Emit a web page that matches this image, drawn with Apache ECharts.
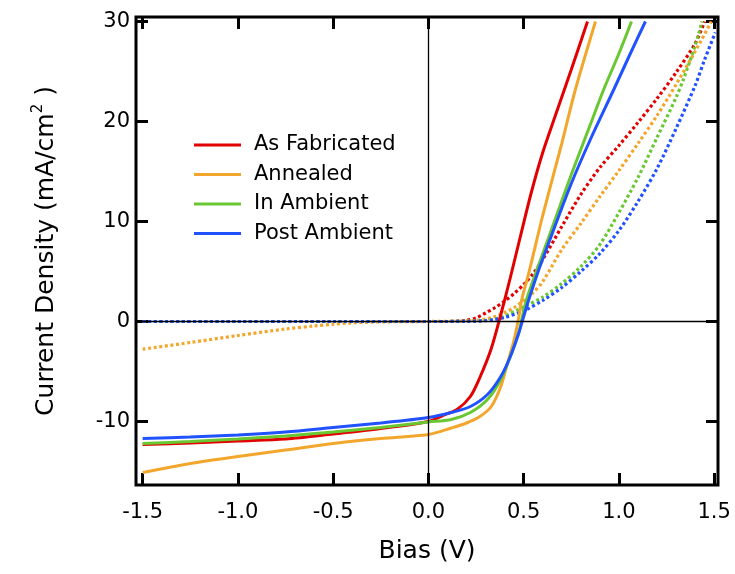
<!DOCTYPE html>
<html>
<head>
<meta charset="utf-8">
<script src="https://cdn.jsdelivr.net/npm/echarts@6/dist/echarts.min.js"></script>
<style>
html,body{margin:0;padding:0;background:#fff;}
#chart{width:735px;height:574px;}
</style>
</head>
<body>
<div id="chart"></div>
<script>
// ---- Data ----
const legendNames = ['As Fabricated', 'Annealed', 'In Ambient', 'Post Ambient'];
const xTickValues = [-1.5, -1.0, -0.5, 0.0, 0.5, 1.0, 1.5];
const yTickValues = [-10, 0, 10, 20, 30];

// Illuminated (solid) curves
const fabLightV = [-1.5,-1.25,-1.0,-0.75,-0.5,-0.25,0,0.08,0.15,0.22,0.27,0.33,0.38,0.43,0.48,0.54,0.6,0.67,0.75,0.835];
const fabLightJ = [-12.3,-12.15,-11.95,-11.75,-11.25,-10.7,-10.0,-9.35,-8.8,-7.5,-5.6,-2.7,0.7,4.4,8.3,12.9,16.9,20.8,25.2,30];

const annLightV = [-1.5,-1.25,-1.0,-0.75,-0.5,-0.25,0,0.12,0.2,0.27,0.33,0.38,0.41,0.45,0.475,0.49,0.53,0.6,0.7,0.77,0.877];
const annLightJ = [-15.1,-14.2,-13.5,-12.85,-12.2,-11.7,-11.3,-10.65,-10.15,-9.5,-8.5,-6.5,-4.5,-1.8,0.5,2.2,5.1,10.6,17.8,23.1,30];

const ambLightV = [-1.5,-1.25,-1.0,-0.75,-0.5,-0.25,0,0.12,0.22,0.31,0.38,0.43,0.475,0.493,0.515,0.57,0.65,0.75,0.85,0.92,1.0,1.066];
const ambLightJ = [-12.2,-12.0,-11.75,-11.45,-11.05,-10.6,-10.05,-9.8,-9.1,-7.8,-5.8,-3.5,-1.1,0.5,2.2,5.2,9.4,14.7,19.7,23.2,26.8,30];

const postLightV = [-1.5,-1.25,-1.0,-0.75,-0.5,-0.25,0,0.12,0.22,0.31,0.38,0.43,0.475,0.5,0.527,0.578,0.65,0.75,0.85,0.973,1.06,1.139];
const postLightJ = [-11.7,-11.55,-11.35,-11.05,-10.6,-10.15,-9.6,-9.1,-8.5,-7.3,-5.5,-3.5,-1.1,0.5,2.2,5.1,8.8,13.8,18.2,23.2,26.8,30];

// Dark (dotted) curves
const fabDarkV = [-1.5,-1.0,-0.5,0,0.1,0.15,0.2,0.25,0.3,0.35,0.4,0.45,0.5,0.55,0.6,0.7,0.8,0.9,1.0,1.1,1.2,1.3,1.4,1.45];
const fabDarkJ = [0,0,0,0,0,0.03,0.12,0.35,0.85,1.4,2.05,2.8,3.7,4.8,6.2,9.5,12.7,15.4,17.6,19.9,22.3,24.9,27.8,30];

const annDarkV = [-1.5,-1.25,-1.0,-0.75,-0.6,-0.5,-0.4,-0.3,-0.2,0,0.15,0.25,0.3,0.35,0.4,0.45,0.5,0.55,0.6,0.7,0.8,0.9,1.0,1.1,1.2,1.3,1.4,1.485];
const annDarkJ = [-2.77,-2.1,-1.4,-0.75,-0.45,-0.27,-0.13,-0.06,-0.03,0,0.03,0.1,0.25,0.5,0.9,1.4,2.1,2.9,4.0,7.2,9.8,12.5,15.1,17.8,20.6,23.7,27.0,30];

const ambDarkV = [-1.5,-1.0,-0.5,0,0.2,0.3,0.35,0.4,0.47,0.5,0.6,0.7,0.8,0.9,1.0,1.1,1.2,1.3,1.34,1.4,1.436];
const ambDarkJ = [0,0,0,0,0.02,0.1,0.25,0.55,1.17,1.45,2.45,3.8,5.5,7.7,10.9,14.4,18.4,22.4,24.3,27.6,30];

const postDarkV = [-1.5,-1.0,-0.5,0,0.2,0.3,0.35,0.4,0.47,0.5,0.6,0.7,0.8,0.9,1.0,1.1,1.2,1.3,1.4,1.45,1.506];
const postDarkJ = [0,0,0,0,0.01,0.08,0.2,0.4,0.84,1.05,2.1,3.4,5.0,6.8,9.1,12.0,15.3,19.3,23.6,26.2,28.9];

// ---- Styling ----
const colors = ['#E20000', '#F2A62C', '#69C832', '#2152FF'];
const FONT = 'DejaVu Sans';

function zip(v, j) { return v.map((x, i) => [x, j[i]]); }

function lineSeries(name, v, j, color, dotted) {
  return {
    name: name,
    type: 'line',
    data: zip(v, j),
    showSymbol: false,
    symbol: 'none',
    smooth: 0.3,
    color: color,
    lineStyle: dotted
      ? { color: color, width: 3.2, type: [3, 2.6], cap: 'butt' }
      : { color: color, width: 3 },
    z: dotted ? 3 : 4,
    animation: false,
    silent: true
  };
}

const series = [
  {
    type: 'line', data: [], silent: true, z: 1,
    markLine: {
      symbol: 'none', silent: true, animation: false,
      label: { show: false },
      lineStyle: { color: '#000', width: 1.3, type: 'solid' },
      data: [{ xAxis: 0 }, { yAxis: 0 }]
    }
  },
  lineSeries('As Fabricated dark', fabDarkV, fabDarkJ, colors[0], true),
  lineSeries('Annealed dark', annDarkV, annDarkJ, colors[1], true),
  lineSeries('In Ambient dark', ambDarkV, ambDarkJ, colors[2], true),
  lineSeries('Post Ambient dark', postDarkV, postDarkJ, colors[3], true),
  lineSeries(legendNames[0], fabLightV, fabLightJ, colors[0], false),
  lineSeries(legendNames[1], annLightV, annLightJ, colors[1], false),
  lineSeries(legendNames[2], ambLightV, ambLightJ, colors[2], false),
  lineSeries(legendNames[3], postLightV, postLightJ, colors[3], false)
];

const tickStyle = { inside: true, length: 12, lineStyle: { color: '#000', width: 3 } };
const hiddenLine = { show: false, onZero: false };

const option = {
  animation: false,
  backgroundColor: '#fff',
  grid: {
    left: 136, right: 17, top: 17, bottom: 89,
    show: true, borderColor: '#000', borderWidth: 3, backgroundColor: 'transparent'
  },
  legend: {
    data: legendNames,
    orient: 'vertical',
    left: 189, top: 129,
    icon: 'rect',
    itemWidth: 47, itemHeight: 3,
    itemGap: 7.5,
    selectedMode: false,
    textStyle: { fontSize: 21, lineHeight: 22, color: '#000', fontFamily: FONT, padding: [0, 0, 0, 8] }
  },
  xAxis: [
    {
      type: 'value', position: 'bottom', min: -1.535, max: 1.52,
      axisLine: hiddenLine,
      axisTick: Object.assign({ customValues: xTickValues }, tickStyle),
      splitLine: { show: false },
      axisLabel: {
        customValues: xTickValues,
        formatter: v => Number(v).toFixed(1),
        fontSize: 21, color: '#000', fontFamily: FONT, margin: 17
      },
      name: 'Bias (V)', nameLocation: 'middle', nameGap: 54,
      nameTextStyle: { fontSize: 25, color: '#000', fontFamily: FONT }
    },
    {
      type: 'value', position: 'top', min: -1.535, max: 1.52,
      axisLine: hiddenLine,
      axisTick: Object.assign({ customValues: xTickValues }, tickStyle),
      splitLine: { show: false },
      axisLabel: { show: false }
    }
  ],
  yAxis: [
    {
      type: 'value', position: 'left', min: -16.35, max: 30.45,
      axisLine: hiddenLine,
      axisTick: Object.assign({ customValues: yTickValues }, tickStyle),
      splitLine: { show: false },
      axisLabel: {
        customValues: yTickValues,
        formatter: v => String(v),
        fontSize: 21, color: '#000', fontFamily: FONT, margin: 6
      },
      name: '{a|Current Density (mA/cm}{s|2}{a| )}',
      nameLocation: 'middle', nameGap: 75,
      nameTextStyle: {
        color: '#000', fontFamily: FONT,
        rich: {
          a: { fontSize: 25, lineHeight: 30, fontFamily: FONT, color: '#000' },
          s: { fontSize: 15, lineHeight: 12, verticalAlign: 'top', fontFamily: FONT, color: '#000' }
        }
      }
    },
    {
      type: 'value', position: 'right', min: -16.35, max: 30.45,
      axisLine: hiddenLine,
      axisTick: Object.assign({ customValues: yTickValues }, tickStyle),
      splitLine: { show: false },
      axisLabel: { show: false }
    }
  ],
  series: series
};

const chart = echarts.init(document.getElementById('chart'), null, { renderer: 'canvas' });
chart.setOption(option);
</script>
</body>
</html>
